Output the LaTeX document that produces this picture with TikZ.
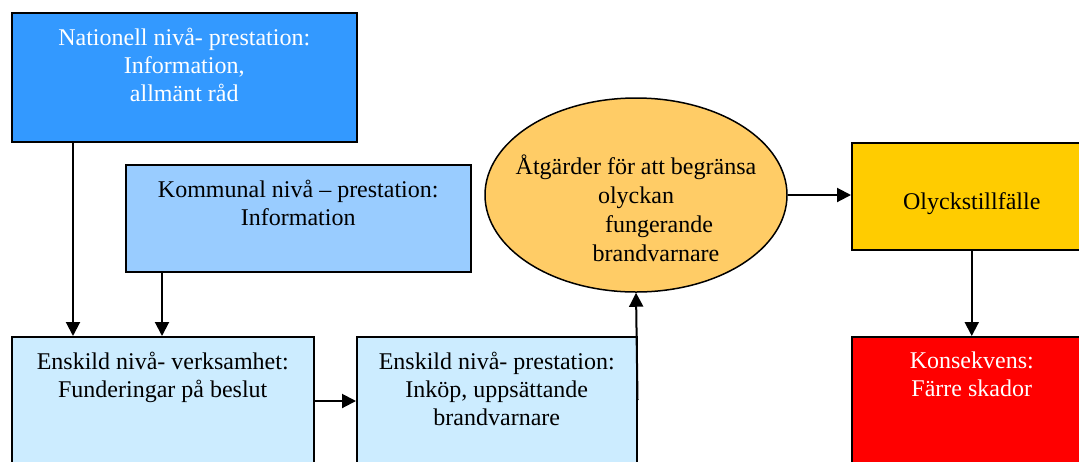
\documentclass[tikz,border=0pt]{standalone}
\usepackage{fontspec}
\setmainfont{Liberation Serif}
\usetikzlibrary{arrows.meta,shapes.geometric}

\definecolor{natblue}{HTML}{3399FF}
\definecolor{komblue}{HTML}{99CCFF}
\definecolor{enskblue}{HTML}{CCECFF}
\definecolor{actorange}{HTML}{FFCC66}
\definecolor{olyckyellow}{HTML}{FFCC00}
\definecolor{konsred}{HTML}{FF0000}

\tikzset{
  box/.style n args={3}{draw, line width=0.75pt, inner sep=0pt, anchor=north west,
    font=\fontsize{12}{14}\selectfont,
    execute at begin node={\begin{minipage}[t][#2][t]{#1}\centering\rule{0pt}{#3}},
    execute at end node={\end{minipage}}},
  arr/.style={line width=1pt, -{Triangle[length=7pt,width=7pt]}}
}

\begin{document}
\begin{tikzpicture}[x=0.5pt, y=-0.5pt]
  \clip (0,0) rectangle (1079,461);

  \node[box={172.5pt}{64.5pt}{16.5pt}, fill=natblue, text=white] (nat) at (11,12)
    {Nationell nivå- prestation:\\Information,\\allmänt råd};
  \node[box={172.5pt}{53.5pt}{16.3pt}, fill=komblue] (kom) at (125,164)
    {Kommunal nivå – prestation:\\Information};
  \node[box={151pt}{80pt}{16.2pt}, fill=enskblue] (ensk) at (11,336)
    {Enskild nivå- verksamhet:\\Funderingar på beslut};
  \node[box={140pt}{80pt}{16.2pt}, fill=enskblue] (pres) at (356,336)
    {Enskild nivå- prestation:\\Inköp, uppsättande\\brandvarnare};
  \node[ellipse, draw, line width=0.75pt, fill=actorange, inner sep=0pt,
    minimum width=151pt, minimum height=97pt,
    font=\fontsize{12}{14}\selectfont] (act) at (636,195)
    {\raisebox{-11.5pt}[0pt][0pt]{\makebox[0pt]{\def\arraystretch{1.032}%
      \begin{tabular}{@{}c@{}}Åtgärder för att begränsa\\olyckan\\
      \hspace*{23pt}fungerande\\\hspace*{20pt}brandvarnare\end{tabular}}}};
  \node[box={120pt}{53.5pt}{33.5pt}, fill=olyckyellow] (olyck) at (851,142)
    {Olyckstillfälle};
  \node[box={120pt}{80pt}{16pt}, fill=konsred, text=white] (kons) at (851,336)
    {Konsekvens:\\Färre skador};

  % arrows
  \draw[arr] ([xshift=31pt]nat.south west) -- ([xshift=31pt]ensk.north west);
  \draw[arr] ([xshift=18.5pt]kom.south west) -- ([xshift=18.5pt]kom.south west |- ensk.north);
  \draw[arr] ([yshift=-32.5pt]ensk.north east) -- ([yshift=-32.5pt]pres.north west);
  \draw[arr] ([yshift=-32pt]pres.north east) -- (act.south);
  \draw[arr] (act.east) -- (act.east -| olyck.west);
  \draw[arr] (olyck.south) -- (kons.north);
\end{tikzpicture}
\end{document}
